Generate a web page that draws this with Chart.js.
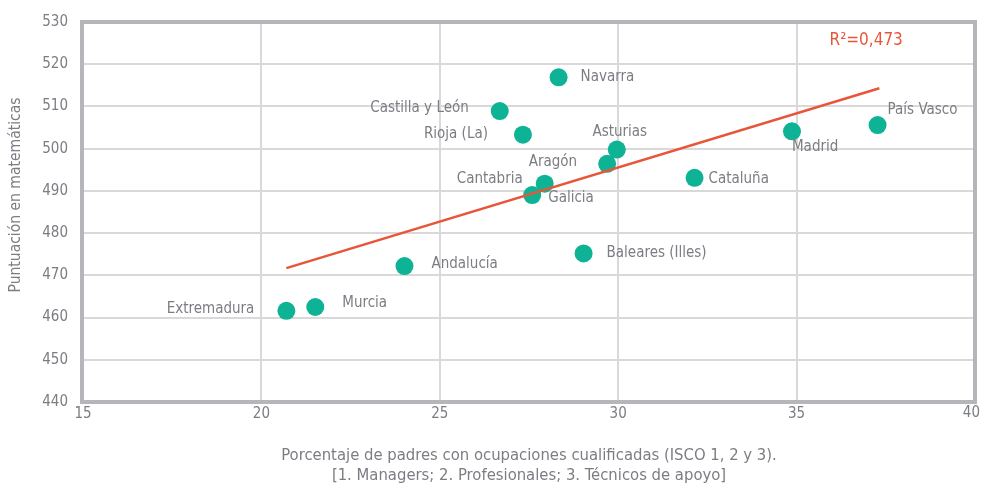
<!DOCTYPE html>
<html>
<head>
<meta charset="utf-8">
<script src="https://cdn.jsdelivr.net/npm/chart.js@4.4.1/dist/chart.umd.min.js"></script>
<style>
  html, body { margin: 0; padding: 0; background: #fff; }
</style>
</head>
<body>
<canvas id="chart" width="981" height="486"></canvas>
<script>
// data
const regions = ['Navarra', 'Castilla y León', 'Rioja (La)', 'Asturias', 'Aragón', 'Cantabria', 'Galicia',
    'Cataluña', 'Madrid', 'País Vasco', 'Baleares (Illes)', 'Andalucía', 'Murcia', 'Extremadura'];
const parentsPct = [28.33, 26.68, 27.33, 29.96, 29.69, 27.94, 27.59, 32.14, 34.87, 37.27, 29.03, 24.01, 21.51, 20.70];
const mathScore = [516.9, 508.9, 503.3, 499.8, 496.4, 491.7, 489.0, 493.1, 504.1, 505.6, 475.2, 472.2, 462.5, 461.6];
const trendX = [20.70, 37.32];
const trendY = [471.7, 514.3];
const xTickValues = [15, 20, 25, 30, 35, 40];
const yTickValues = [440, 450, 460, 470, 480, 490, 500, 510, 520, 530];
const r2Text = 'R²=0,473';
const r2Pos = [36.95, 525.5];
const yTitle = 'Puntuación en matemáticas';

const FONT = '"Liberation Sans Narrow", "DejaVu Sans Condensed", "Roboto Condensed", sans-serif';
const TEXT = '#7c7d83';
const TEAL = '#0db394';
const RED = '#e8563a';

// where each region name sits relative to its dot: [dx, dy, align]
const labelPlacement = [
    [22, 0, 'left'], [-31, -3, 'right'], [-35, -1, 'right'], [3, -17, 'center'], [-30, -2, 'right'],
    [-22, -5, 'right'], [16, 3, 'left'], [14, 1, 'left'], [0, 16, 'left'], [10, -15, 'left'],
    [23, 0, 'left'], [27, -2, 'left'], [27, -4, 'left'], [-32, -2, 'right'],
];

const decorPlugin = {
    id: 'decor',
    beforeDatasetsDraw(chart) {
        const { ctx, chartArea: a } = chart;
        ctx.save();
        ctx.strokeStyle = '#b4b6b9';
        ctx.lineWidth = 4;
        ctx.strokeRect(a.left - 1, a.top, a.right - a.left + 1, a.bottom - a.top);
        ctx.restore();
    },
    afterDatasetsDraw(chart) {
        const { ctx, chartArea: a } = chart;
        const xs = chart.scales.x, ys = chart.scales.y;
        const pts = chart.getDatasetMeta(1).data;
        ctx.save();
        ctx.font = '15px ' + FONT;
        ctx.fillStyle = TEXT;
        ctx.textBaseline = 'middle';
        pts.forEach((p, i) => {
            const [dx, dy, align] = labelPlacement[i];
            ctx.textAlign = align;
            ctx.fillText(regions[i], p.x + dx, p.y + dy);
        });
        // last x tick sits inside the frame
        ctx.textAlign = 'right';
        ctx.fillText(String(xTickValues[xTickValues.length - 1]), xs.getPixelForValue(40) + 5, a.bottom + 11);
        // y title, a bit above the middle as in the original
        ctx.save();
        ctx.translate(16, 195);
        ctx.rotate(-Math.PI / 2);
        ctx.textAlign = 'center';
        ctx.font = '15.5px ' + FONT;
        ctx.fillText(yTitle, 0, 0);
        ctx.restore();
        ctx.fillStyle = RED;
        ctx.textAlign = 'center';
        ctx.font = '17px ' + FONT;
        ctx.fillText(r2Text, xs.getPixelForValue(r2Pos[0]), ys.getPixelForValue(r2Pos[1]));
        ctx.restore();
    },
};

new Chart(document.getElementById('chart'), {
    type: 'scatter',
    data: {
        datasets: [
            {
                type: 'line',
                data: trendX.map((x, i) => ({ x, y: trendY[i] })),
                borderColor: RED,
                borderWidth: 2.5,
                pointRadius: 0,
                fill: false,
                order: 0,
            },
            {
                data: parentsPct.map((x, i) => ({ x, y: mathScore[i] })),
                backgroundColor: TEAL,
                borderWidth: 0,
                pointRadius: 9,
                order: 1,
            },
        ],
    },
    options: {
        responsive: false,
        animation: false,
        layout: { autoPadding: false, padding: { left: 0, right: 6, top: 22, bottom: 0 } },
        plugins: {
            legend: { display: false },
            tooltip: { enabled: false },
        },
        scales: {
            x: {
                type: 'linear',
                min: 15,
                max: 40,
                afterBuildTicks(scale) {
                    scale.ticks = xTickValues.map((v) => ({ value: v }));
                },
                afterFit(scale) {
                    scale.height = 84;
                    scale.paddingRight = 0;
                },
                ticks: {
                    callback: (v) => (v === 40 ? '' : v),
                    color: TEXT,
                    font: { family: FONT, size: 15 },
                    padding: 3,
                    maxRotation: 0,
                },
                grid: { color: '#d9d9d9', lineWidth: 2, drawTicks: false },
                border: { display: false },
                title: {
                    display: true,
                    text: ['Porcentaje de padres con ocupaciones cualificadas (ISCO 1, 2 y 3).',
                        '[1. Managers; 2. Profesionales; 3. Técnicos de apoyo]'],
                    color: TEXT,
                    font: { family: FONT, size: 16.5, lineHeight: 1.22 },
                    padding: { top: 0, bottom: 0 },
                },
            },
            y: {
                type: 'linear',
                min: 440,
                max: 530,
                afterBuildTicks(scale) {
                    scale.ticks = yTickValues.map((v) => ({ value: v }));
                },
                afterFit(scale) {
                    scale.width = 83;
                    scale.paddingTop = 0;
                },
                ticks: {
                    color: TEXT,
                    font: { family: FONT, size: 15 },
                    padding: 15,
                },
                grid: { color: '#d9d9d9', lineWidth: 2, drawTicks: false },
                border: { display: false },
            },
        },
    },
    plugins: [decorPlugin],
});
</script>
</body>
</html>
